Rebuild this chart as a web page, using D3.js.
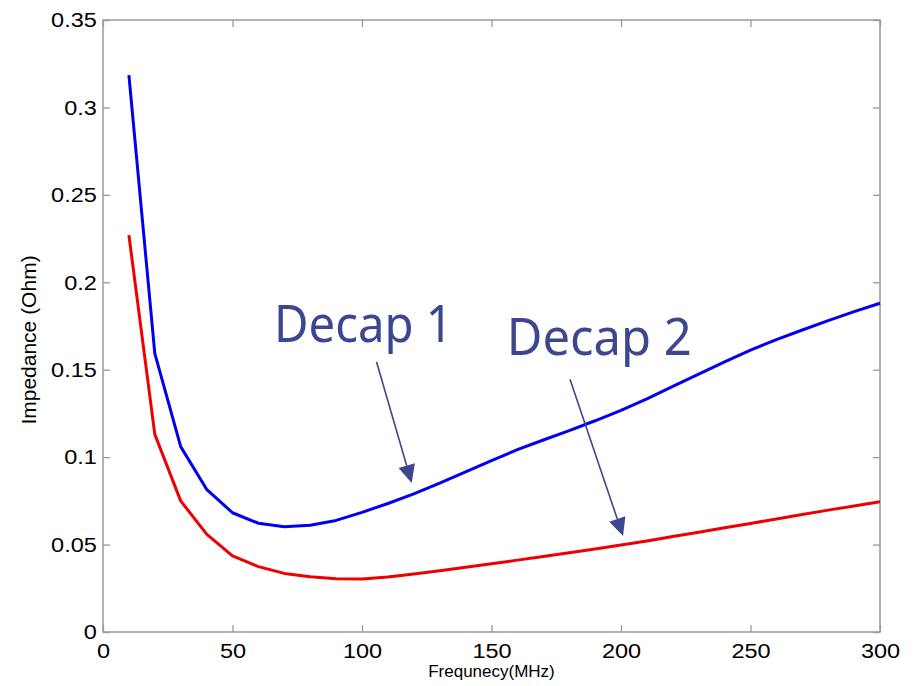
<!DOCTYPE html>
<html>
<head>
<meta charset="utf-8">
<script src="https://cdn.jsdelivr.net/npm/d3@7"></script>
<style>
  body { margin: 0; background: #fff; }
  svg { display: block; }
</style>
</head>
<body>
<div id="chart"></div>
<script>
// frequency points (MHz)
const freq = [10, 20, 30, 40, 50, 60, 70, 80, 90, 100, 110, 120, 130, 140, 150,
    160, 170, 180, 190, 200, 210, 220, 230, 240, 250, 260, 270, 280, 290, 300];

// impedance (Ohm)
const decap1 = [0.3185, 0.1594, 0.106, 0.0816, 0.0682, 0.0622, 0.0602, 0.061, 0.0638, 0.0684,
    0.0735, 0.079, 0.0852, 0.0916, 0.098, 0.1043, 0.1098, 0.1152, 0.1208, 0.1268,
    0.1333, 0.1405, 0.1475, 0.1545, 0.1612, 0.1672, 0.1727, 0.1781, 0.1832, 0.188];
const decap2 = [0.227, 0.113, 0.075, 0.056, 0.0435, 0.0374, 0.0335, 0.0316, 0.0305, 0.0303,
    0.0315, 0.0332, 0.035, 0.037, 0.039, 0.0411, 0.0432, 0.0453, 0.0475, 0.0497,
    0.0521, 0.0546, 0.0571, 0.0596, 0.0621, 0.0646, 0.0672, 0.0697, 0.0721, 0.0745];

const xTicks = [0, 50, 100, 150, 200, 250, 300];
const yTicks = [0, 0.05, 0.1, 0.15, 0.2, 0.25, 0.3, 0.35];
const yTickLabels = ["0", "0.05", "0.1", "0.15", "0.2", "0.25", "0.3", "0.35"];

// annotations: label position and arrow start/tip, in data units
const labels = ["Decap 1", "Decap 2"];
const labelPos = [[66, 0.166], [155.9, 0.1584]];
const arrowFrom = [[105.6, 0.1546], [180.3, 0.1445]];
const arrowTo = [[119.2, 0.0852], [200.8, 0.0549]];

const width = 917, height = 686;
const margin = { top: 20, right: 37, bottom: 54, left: 103 };

const svg = d3.select("#chart").append("svg")
    .attr("width", width)
    .attr("height", height);

const x = d3.scaleLinear().domain([0, 300]).range([margin.left, width - margin.right]);
const y = d3.scaleLinear().domain([0, 0.35]).range([height - margin.bottom, margin.top]);

const axisColor = "#9a9a9a";
const tickLen = 7;
const font = "'Liberation Sans', Arial, sans-serif";

// frame
svg.append("rect")
    .attr("x", x(0)).attr("y", y(0.35))
    .attr("width", x(300) - x(0)).attr("height", y(0) - y(0.35))
    .attr("fill", "none").attr("stroke", axisColor).attr("stroke-width", 1.5);

// axes, ticks pointing inwards on every side
function styleAxis(g) {
    g.select(".domain").remove();
    g.selectAll(".tick line").attr("stroke", axisColor).attr("stroke-width", 1.3);
    g.selectAll(".tick text").attr("fill", "#000")
        .attr("transform", "scale(1.12,1)")
        .style("font-family", font).style("font-size", "21px");
}

svg.append("g")
    .attr("transform", `translate(0,${y(0)})`)
    .call(d3.axisBottom(x).tickValues(xTicks).tickFormat(d3.format("d")).tickSizeInner(-tickLen).tickPadding(11))
    .call(styleAxis);

svg.append("g")
    .attr("transform", `translate(0,${y(0.35)})`)
    .call(d3.axisTop(x).tickValues(xTicks).tickFormat("").tickSizeInner(-tickLen))
    .call(styleAxis);

svg.append("g")
    .attr("transform", `translate(${x(0)},0)`)
    .call(d3.axisLeft(y).tickValues(yTicks).tickFormat((d, i) => yTickLabels[i]).tickSizeInner(-tickLen).tickPadding(5.5))
    .call(styleAxis);

svg.append("g")
    .attr("transform", `translate(${x(300)},0)`)
    .call(d3.axisRight(y).tickValues(yTicks).tickFormat("").tickSizeInner(-tickLen))
    .call(styleAxis);

// axis labels
svg.append("text")
    .attr("x", x(150)).attr("y", 677)
    .attr("text-anchor", "middle")
    .style("font-family", font).style("font-size", "17px")
    .text("Frequnecy(MHz)");

svg.append("text")
    .attr("transform", `translate(36,340) rotate(-90)`)
    .attr("text-anchor", "middle")
    .style("font-family", font).style("font-size", "21px")
    .text("Impedance (Ohm)");

// curves
const series = [
    { values: decap1, color: "#0000ee" },
    { values: decap2, color: "#ee0000" }
];

const line = d3.line()
    .x((d, i) => x(freq[i]))
    .y(d => y(d));

svg.selectAll(".curve")
    .data(series)
    .enter()
    .append("path")
    .attr("class", "curve")
    .attr("d", d => line(d.values))
    .attr("fill", "none")
    .attr("stroke", d => d.color)
    .attr("stroke-width", 3)
    .attr("stroke-linejoin", "round");

// annotations
const annColor = "#3d4690";

labels.forEach((txt, i) => {
    svg.append("text")
        .attr("x", x(labelPos[i][0]))
        .attr("y", y(labelPos[i][1]))
        .attr("fill", annColor)
        .attr("textLength", i === 0 ? 179 : 185)
        .attr("lengthAdjust", "spacingAndGlyphs")
        .style("font-family", "'Noto Sans', 'DejaVu Sans', sans-serif")
        .style("font-size", "51px")
        .text(txt);

    const x0 = x(arrowFrom[i][0]), y0 = y(arrowFrom[i][1]);
    const x1 = x(arrowTo[i][0]), y1 = y(arrowTo[i][1]);
    const len = Math.hypot(x1 - x0, y1 - y0);
    const ux = (x1 - x0) / len, uy = (y1 - y0) / len;
    const headLen = 18, headHalf = 8.5;
    const bx = x1 - ux * headLen, by = y1 - uy * headLen;

    svg.append("line")
        .attr("x1", x0).attr("y1", y0)
        .attr("x2", bx).attr("y2", by)
        .attr("stroke", annColor)
        .attr("stroke-width", 1.6);

    svg.append("path")
        .attr("d", `M${x1},${y1}L${bx - uy * headHalf},${by + ux * headHalf}L${bx + uy * headHalf},${by - ux * headHalf}Z`)
        .attr("fill", annColor);
});
</script>
</body>
</html>
